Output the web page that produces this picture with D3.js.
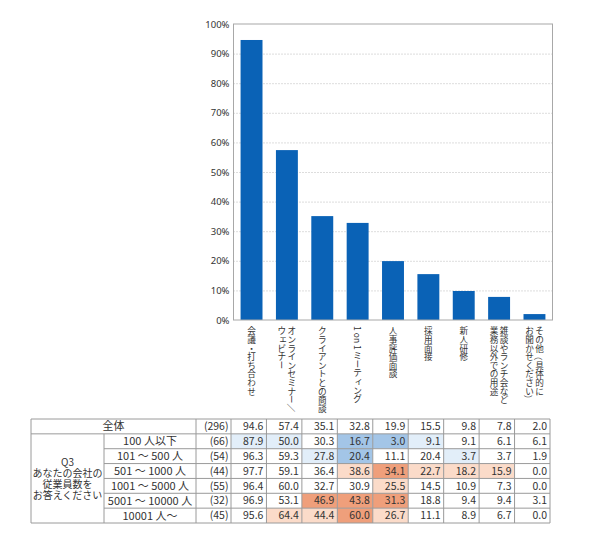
<!DOCTYPE html>
<html>
<head>
<meta charset="utf-8">
<script src="https://cdn.jsdelivr.net/npm/d3@7"></script>
<style>
  body { margin: 0; background: #fff; }
  svg { display: block; font-family: "Noto Sans CJK JP", "Noto Sans", sans-serif; }
</style>
</head>
<body>
<div id="chart"></div>
<script>
// categories (each label split into its vertical lines, first line drawn on the right)
var categories = [
  ["会議・打ち合わせ"],
  ["オンラインセミナー／", "ウェビナー"],
  ["クライアントとの商談"],
  ["1 on 1ミーティング"],
  ["人事評価面談"],
  ["採用面接"],
  ["新人研修"],
  ["雑談やランチ会など", "業務以外での用途"],
  ["その他（具体的に", "お聞かせください）"]
];
var totals = [94.6, 57.4, 35.1, 32.8, 19.9, 15.5, 9.8, 7.8, 2.0];
var totalN = 296;
var yTicks = [0, 10, 20, 30, 40, 50, 60, 70, 80, 90, 100];

var groupLabel = ["Q3", "あなたの会社の", "従業員数を", "お答えください"];
var groups = ["100 人以下", "101 ～ 500 人", "501 ～ 1000 人", "1001 ～ 5000 人", "5001 ～ 10000 人", "10001 人～"];
var groupN = [66, 54, 44, 55, 32, 45];
var groupValues = [
  [87.9, 50.0, 30.3, 16.7, 3.0, 9.1, 9.1, 6.1, 6.1],
  [96.3, 59.3, 27.8, 20.4, 11.1, 20.4, 3.7, 3.7, 1.9],
  [97.7, 59.1, 36.4, 38.6, 34.1, 22.7, 18.2, 15.9, 0.0],
  [96.4, 60.0, 32.7, 30.9, 25.5, 14.5, 10.9, 7.3, 0.0],
  [96.9, 53.1, 46.9, 43.8, 31.3, 18.8, 9.4, 9.4, 3.1],
  [95.6, 64.4, 44.4, 60.0, 26.7, 11.1, 8.9, 6.7, 0.0]
];
// highlight level of each cell: -2/-1 lower than total, +1/+2 higher
var groupLevels = [
  [-1, -1, 0, -2, -2, -1, 0, 0, 0],
  [0, 0, -1, -2, 0, 0, -1, 0, 0],
  [0, 0, 0, 1, 2, 1, 1, 1, 0],
  [0, 0, 0, 0, 1, 0, 0, 0, 0],
  [0, 0, 2, 2, 2, 0, 0, 0, 0],
  [0, 1, 1, 2, 1, 0, 0, 0, 0]
];

var width = 590, height = 553;
var plot = {left: 233.5, right: 552.5, top: 24, bottom: 320};
var levelColor = {"-2": "#a3c5e7", "-1": "#e2eef9", "0": "#ffffff", "1": "#fbdbc9", "2": "#ef9f7b"};

var svg = d3.select('#chart')
  .append('svg')
  .attr('width', width)
  .attr('height', height);

var keys = categories.map(function(d) { return d.join(""); });

/* bar chart scales */
var x = d3.scaleBand()
  .domain(keys)
  .range([plot.left, plot.right])
  .paddingInner(0.38)
  .paddingOuter(0.2);

var y = d3.scaleLinear()
  .domain([0, 100])
  .range([plot.bottom, plot.top]);

// dotted gridlines
svg.append('g')
  .selectAll('line')
  .data(yTicks.slice(1, -1))
  .enter().append('line')
  .attr('x1', plot.left).attr('x2', plot.right)
  .attr('y1', function(d) { return y(d) + 0.5; })
  .attr('y2', function(d) { return y(d) + 0.5; })
  .attr('stroke', '#aaa')
  .attr('stroke-width', 0.8)
  .attr('stroke-dasharray', '1,2');

// y axis labels
var yAxis = svg.append('g')
  .attr('transform', 'translate(' + plot.left + ',0)')
  .call(d3.axisLeft(y).tickValues(yTicks).tickSize(0).tickPadding(4)
    .tickFormat(function(d) { return d + '%'; }));
yAxis.select('.domain').remove();
yAxis.selectAll('text')
  .attr('fill', '#333')
  .style('font-size', '9.5px')
  .style('font-family', '"Noto Sans", sans-serif');

// bars
svg.append('g')
  .selectAll('rect')
  .data(totals)
  .enter().append('rect')
  .attr('x', function(d, i) { return x(keys[i]); })
  .attr('width', x.bandwidth())
  .attr('y', function(d) { return y(d); })
  .attr('height', function(d) { return y(0) - y(d); })
  .attr('fill', '#0a62b6');

// plot frame
svg.append('rect')
  .attr('x', plot.left).attr('y', plot.top)
  .attr('width', plot.right - plot.left)
  .attr('height', plot.bottom - plot.top)
  .attr('fill', 'none')
  .attr('stroke', '#a8a8a8')
  .attr('stroke-width', 1);

/* vertical category labels, laid out one glyph at a time */
var vfs = 8.6;          // font size
var vcol = 10;          // distance between label columns
var rotated = "ー／（）～";
var smallKana = "ァィゥェォャュョッぁぃぅぇぉゃゅょっ";

// split a line into upright glyphs and sideways latin runs
function tokens(s) {
  var out = [], buf = "";
  for (var i = 0; i < s.length; i++) {
    var c = s[i];
    if (/[ -~]/.test(c)) { buf += c; continue; }
    if (buf) { out.push({t: buf, latin: true}); buf = ""; }
    out.push({t: c, latin: false});
  }
  if (buf) out.push({t: buf, latin: true});
  return out;
}

var lg = svg.append('g').attr('fill', '#333').style('font-size', vfs + 'px');
categories.forEach(function(lines, i) {
  var cx0 = x(keys[i]) + x.bandwidth() / 2;
  lines.forEach(function(line, j) {
    var cx = cx0 + ((lines.length - 1) / 2 - j) * vcol;
    var yy = plot.bottom + 6;
    tokens(line).forEach(function(tk) {
      if (tk.latin) {
        var t = lg.append('text')
          .attr('dominant-baseline', 'central')
          .attr('transform', 'translate(' + cx + ',' + yy + ') rotate(90)')
          .text(tk.t);
        yy += t.node().getComputedTextLength() + 1;
      } else {
        var cy = yy + vfs / 2;
        var t2 = lg.append('text')
          .attr('text-anchor', 'middle')
          .attr('dominant-baseline', 'central')
          .text(tk.t);
        if (rotated.indexOf(tk.t) >= 0) {
          t2.attr('transform', 'translate(' + cx + ',' + cy + ') rotate(90)');
        } else if (smallKana.indexOf(tk.t) >= 0) {
          t2.attr('x', cx + 1.2).attr('y', cy - 1.2);
        } else {
          t2.attr('x', cx).attr('y', cy);
        }
        yy += vfs;
      }
    });
  });
});

/* table */
var tbl = {left: 31, c1: 104, c2: 196, c3: 231, right: 550, top: 419, bottom: 523};
var rowNames = ["全体"].concat(groups);
var row = d3.scaleBand().domain(rowNames).range([tbl.top, tbl.bottom]);
var col = d3.scaleBand().domain(keys).range([tbl.c3, tbl.right]);
var rh = row.bandwidth();
var fs = '10.5px';
var lineColor = '#9a9a9a';

var tg = svg.append('g');

var allRows = [{name: "全体", n: totalN, values: totals, levels: totals.map(function() { return 0; })}]
  .concat(groups.map(function(g, i) {
    return {name: g, n: groupN[i], values: groupValues[i], levels: groupLevels[i]};
  }));

// cell backgrounds
allRows.forEach(function(r) {
  tg.append('g').selectAll('rect')
    .data(r.values)
    .enter().append('rect')
    .attr('x', function(d, i) { return col(keys[i]); })
    .attr('y', row(r.name))
    .attr('width', col.bandwidth())
    .attr('height', rh)
    .attr('fill', function(d, i) { return levelColor[r.levels[i]]; });
});

// horizontal rules
tg.selectAll('line.h')
  .data(rowNames.concat(['end']))
  .enter().append('line')
  .attr('x1', function(d, i) { return (i === 0 || i === rowNames.length || i === 1) ? tbl.left : tbl.c1; })
  .attr('x2', tbl.right)
  .attr('y1', function(d, i) { return i < rowNames.length ? row(d) : tbl.bottom; })
  .attr('y2', function(d, i) { return i < rowNames.length ? row(d) : tbl.bottom; })
  .attr('stroke', lineColor)
  .attr('stroke-width', 1);

// vertical rules
var vx = [tbl.left, tbl.c2, tbl.c3].concat(keys.map(function(k) { return col(k) + col.bandwidth(); }));
tg.selectAll('line.v')
  .data(vx)
  .enter().append('line')
  .attr('x1', function(d) { return d; })
  .attr('x2', function(d) { return d; })
  .attr('y1', tbl.top)
  .attr('y2', tbl.bottom)
  .attr('stroke', lineColor)
  .attr('stroke-width', 1);
tg.append('line')
  .attr('x1', tbl.c1).attr('x2', tbl.c1)
  .attr('y1', row(groups[0])).attr('y2', tbl.bottom)
  .attr('stroke', lineColor);

// texts
allRows.forEach(function(r, ri) {
  var ty = row(r.name) + rh / 2;
  tg.append('text')
    .attr('x', ri === 0 ? (tbl.left + tbl.c2) / 2 : (tbl.c1 + tbl.c2) / 2)
    .attr('y', ty)
    .attr('dy', '0.36em')
    .attr('text-anchor', 'middle')
    .style('font-size', '11px')
    .attr('fill', '#333')
    .text(r.name);
  tg.append('text')
    .attr('x', tbl.c3 - 2.5)
    .attr('y', ty)
    .attr('dy', '0.36em')
    .attr('text-anchor', 'end')
    .style('font-size', fs)
    .attr('fill', '#333')
    .text('(' + r.n + ')');
  tg.append('g').selectAll('text')
    .data(r.values)
    .enter().append('text')
    .attr('x', function(d, i) { return col(keys[i]) + col.bandwidth() - 3; })
    .attr('y', ty)
    .attr('dy', '0.36em')
    .attr('text-anchor', 'end')
    .style('font-size', fs)
    .attr('fill', '#333')
    .text(function(d) { return d.toFixed(1); });
});

// group label, one text block with a line per tspan
var gy = (row(groups[0]) + tbl.bottom) / 2;
var lineH = 11;
tg.append('text')
  .attr('text-anchor', 'middle')
  .style('font-size', '10px')
  .attr('fill', '#333')
  .selectAll('tspan')
  .data(groupLabel)
  .enter().append('tspan')
  .attr('x', (tbl.left + tbl.c1) / 2)
  .attr('y', function(d, i) { return gy + (i - (groupLabel.length - 1) / 2) * lineH + 3.6; })
  .text(function(d) { return d; });
</script>
</body>
</html>
